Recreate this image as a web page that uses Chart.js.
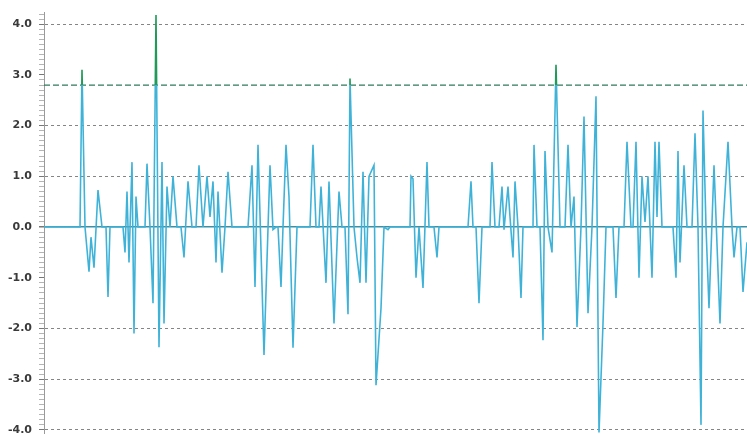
<!DOCTYPE html>
<html>
<head>
<meta charset="utf-8">
<script src="https://cdn.jsdelivr.net/npm/chart.js@4.4.0/dist/chart.umd.min.js"></script>
<style>
  html, body { margin: 0; padding: 0; background: #fff; }
  #wrap { width: 747px; height: 434px; }
</style>
</head>
<body>
<div id="wrap"><canvas id="signalChart" width="747" height="434"></canvas></div>
<script>
// sample positions (time) and signal readings
const sampleTimes = [
    0, 36, 38, 41, 45, 47, 50, 54, 58, 62, 64, 66, 79, 81, 83, 85, 88, 90, 92, 94,
    101, 103, 106, 109, 112, 115, 118, 120, 123, 126, 129, 133, 137, 140, 144, 148, 152, 155, 159, 163,
    166, 169, 172, 174, 178, 181, 184, 188, 204, 208, 211, 214, 220, 226, 229, 232, 234, 237, 239, 242,
    245, 249, 253, 266, 269, 272, 275, 277, 282, 285, 290, 295, 298, 301, 304, 306, 310, 313, 316, 319,
    322, 325, 330, 332, 337, 340, 344, 346, 366, 367, 369, 372, 375, 379, 383, 385, 390, 393, 395, 424,
    427, 429, 432, 435, 438, 446, 448, 451, 455, 458, 460, 464, 466, 469, 471, 474, 477, 479, 489, 490,
    493, 496, 499, 501, 504, 508, 512, 516, 521, 524, 527, 530, 533, 537, 540, 544, 548, 552, 555, 559,
    562, 569, 572, 575, 580, 583, 587, 589, 592, 595, 598, 601, 604, 608, 611, 613, 615, 618, 629, 632,
    634, 636, 640, 643, 648, 651, 654, 657, 659, 662, 665, 670, 676, 679, 684, 688, 690, 693, 696, 699,
    703
];
const signalValues = [
    0, 0, 3.1, 0, -0.88, -0.2, -0.8, 0.73, 0, 0, -1.38, 0, 0, -0.5, 0.7, -0.7, 1.28, -2.1, 0.6, 0,
    0, 1.25, 0, -1.5, 4.18, -2.37, 1.28, -1.9, 0.8, 0, 1.0, 0, 0, -0.6, 0.9, 0, 0, 1.22, 0, 1.0,
    0.2, 0.9, -0.7, 0.7, -0.9, 0, 1.09, 0, 0, 1.22, -1.18, 1.62, -2.52, 1.22, -0.05, 0, 0, -1.18, 0, 1.62,
    0.6, -2.38, 0, 0, 1.62, 0, 0, 0.8, -1.1, 0.9, -1.9, 0.7, 0, 0, -1.72, 2.93, 0, -0.6, -1.1, 1.09,
    -1.1, 1.0, 1.22, -3.12, -1.6, 0, -0.05, 0, 0, 1.0, 0.95, -1.0, 0, -1.2, 1.28, 0, 0, -0.6, 0, 0,
    0.9, 0, 0, -1.5, 0, 0, 1.28, 0, 0, 0.8, -0.05, 0.8, 0.2, -0.6, 0.9, 0, -1.4, 0, 0, 1.62,
    0, 0, -2.23, 1.5, 0, -0.5, 3.2, 0, 0, 1.62, 0, 0.6, -1.97, 0, 2.18, -1.7, 0, 2.58, -4.05, -1.9,
    0, 0, -1.4, 0, 0, 1.68, 0, 0, 1.68, -1.0, 1.0, 0.1, 1.0, -1.0, 1.68, 0.2, 1.68, 0, 0, -1.0,
    1.5, -0.7, 1.22, 0, 0, 1.85, 0, -3.9, 2.3, 0, -1.6, 1.22, -1.9, 0, 1.68, 0, -0.6, 0, 0, -1.28,
    -0.3
];
const yLabelValues = [4, 3, 2, 1, 0, -1, -2, -3, -4];
const hiddenGridValues = [3, -1];
const thresholdValue = 2.8;

const lineBlue = '#3fb2d8';
const lineGreen = '#1f9a58';

function isMajor(v) {
    return Math.abs(v - Math.round(v)) < 1e-6;
}

function signalColor(context) {
    const chart = context.chart;
    const area = chart.chartArea;
    if (!area) {
        return lineBlue;
    }
    const yPix = chart.scales.y.getPixelForValue(thresholdValue);
    let stop = (yPix - area.top) / (area.bottom - area.top);
    stop = Math.min(Math.max(stop, 0), 1);
    const grad = chart.ctx.createLinearGradient(0, area.top, 0, area.bottom);
    grad.addColorStop(0, lineGreen);
    grad.addColorStop(stop, lineGreen);
    grad.addColorStop(stop, lineBlue);
    grad.addColorStop(1, lineBlue);
    return grad;
}

const points = sampleTimes.map((t, i) => ({ x: t, y: signalValues[i] }));
const tMin = sampleTimes[0];
const tMax = sampleTimes[sampleTimes.length - 1];

const ctx = document.getElementById('signalChart').getContext('2d');
const signalChart = new Chart(ctx, {
    type: 'line',
    data: {
        datasets: [{
            label: 'Signal',
            data: points,
            borderColor: signalColor,
            borderWidth: 1.6,
            pointRadius: 0,
            tension: 0,
            fill: false
        }, {
            label: 'Threshold',
            data: [{ x: tMin, y: thresholdValue }, { x: tMax, y: thresholdValue }],
            borderColor: '#2f7a5c',
            borderWidth: 1.2,
            borderDash: [6, 3],
            pointRadius: 0,
            fill: false
        }]
    },
    options: {
        responsive: false,
        animation: false,
        layout: { padding: { top: 12, right: 0, bottom: 0, left: 0 } },
        plugins: {
            legend: { display: false },
            tooltip: { enabled: false }
        },
        scales: {
            x: {
                type: 'linear',
                min: tMin,
                max: tMax,
                display: false
            },
            y: {
                min: -4.08,
                max: 4.24,
                afterBuildTicks: function(scale) {
                    const ticks = [];
                    for (let k = -40; k <= 42; k++) {
                        ticks.push({ value: k / 10 });
                    }
                    scale.ticks = ticks;
                },
                afterFit: function(scale) {
                    scale.width = 44;
                    scale.paddingTop = 0;
                    scale.paddingBottom = 0;
                },
                ticks: {
                    autoSkip: false,
                    padding: 7,
                    color: '#3a3a3a',
                    font: { family: 'DejaVu Sans', size: 11, weight: 'bold' },
                    callback: function(value) {
                        const r = Math.round(value);
                        if (!isMajor(value) || !yLabelValues.includes(r)) {
                            return '';
                        }
                        return (r === 0 ? 0 : r).toFixed(1);
                    }
                },
                grid: {
                    drawTicks: true,
                    tickLength: 5,
                    color: function(c) {
                        const v = c.tick ? c.tick.value : 1;
                        if (!isMajor(v)) return 'rgba(0,0,0,0)';
                        const r = Math.round(v);
                        if (r === 0) return '#3d8fa3';
                        if (hiddenGridValues.includes(r)) return 'rgba(0,0,0,0)';
                        return '#858585';
                    },
                    lineWidth: function(c) {
                        const v = c.tick ? c.tick.value : 1;
                        return Math.abs(v) < 1e-6 ? 1.5 : 1;
                    },
                    tickColor: function(c) {
                        const v = c.tick ? c.tick.value : 1;
                        return isMajor(v) ? '#777' : '#b5b5b5';
                    }
                },
                border: {
                    display: true,
                    color: '#9a9a9a',
                    width: 1,
                    dash: function(c) {
                        const v = c.tick ? c.tick.value : 1;
                        return Math.abs(v) < 1e-6 ? [] : [3, 3];
                    }
                }
            }
        }
    }
});
</script>
</body>
</html>
